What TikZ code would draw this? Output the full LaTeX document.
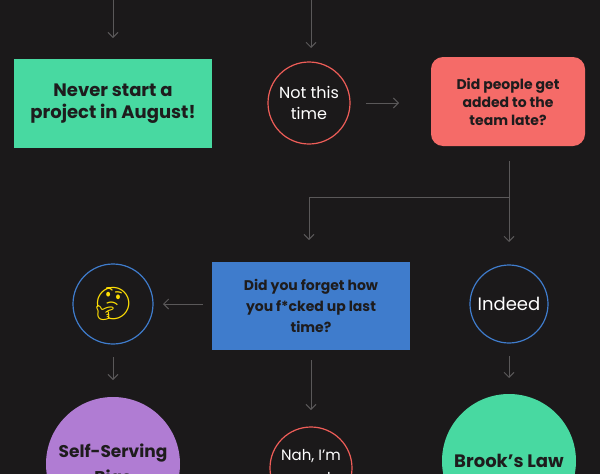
\documentclass[tikz,border=0pt]{standalone}
\usepackage{fontspec}
\setmainfont{Poppins}
\usetikzlibrary{arrows.meta}
\newfontfamily\emo{Noto Emoji}
\definecolor{bg}{HTML}{1B191A}
\definecolor{ln}{HTML}{5A5859}
\definecolor{grn}{HTML}{48D9A1}
\definecolor{rd}{HTML}{F56B68}
\definecolor{rdl}{HTML}{EE5D58}
\definecolor{bl}{HTML}{3F7CCC}
\definecolor{pur}{HTML}{B07CD3}
\definecolor{txt}{HTML}{1E1C1D}
\tikzset{
 conn/.style={draw=ln,line width=1pt,-{Straight Barb[length=5pt,width=10pt]}},
 dark/.style={text=txt,font=\bfseries,align=center},
 ring/.style={circle,line width=1.2pt,fill=bg,text=white,align=center,inner sep=0pt},
}
\begin{document}
\begin{tikzpicture}[x=1pt,y=-1pt]
\fill[bg] (0,0) rectangle (600,474);
\useasboundingbox (0,0) rectangle (600,474);
\begin{scope}
\clip (0,0) rectangle (600,474);
\coordinate (t1) at (113,0); \coordinate (t1e) at (113,38);
\coordinate (t2) at (311,0); \coordinate (t2e) at (311,48);
\draw[conn] (t1) -- (t1e);
\draw[conn] (t2) -- (t2e);
\node[fill=grn,minimum width=198pt,minimum height=89pt,dark,font=\bfseries\fontsize{18}{22}\selectfont] (never) at (113,103.5) {Never start a\\project in August!};
\node[ring,draw=rdl,minimum size=82pt,font=\fontsize{16}{21}\selectfont] (not) at (309,103) {Not this\\time};
\node[fill=rd,rounded corners=12pt,minimum width=154pt,minimum height=89pt,dark,font=\bfseries\fontsize{14}{18}\selectfont] (late) at (508,101.5) {Did people get\\added to the\\team late?};
\coordinate (a1) at (366,103); \coordinate (a1e) at (399,103);
\draw[conn] (a1) -- (a1e);
\coordinate (s) at (509,161); \coordinate (j) at (509,197); \coordinate (jl) at (309,197);
\coordinate (d1) at (309,240); \coordinate (d2) at (509,242);
\draw[draw=ln,line width=1pt] (s) -- (j) -- (jl);
\draw[conn] (jl) -- (d1);
\draw[conn] (j) -- (d2);
\node[fill=bl,minimum width=198pt,minimum height=88pt,dark,font=\bfseries\fontsize{14}{21}\selectfont] (forgot) at (311,306) {Did you forget how\\you f*cked up last\\time?};
\node[ring,draw=bl,minimum size=80pt,font=\emo\fontsize{32}{32}\selectfont,text=yellow!80!orange] (think) at (113,304) {🤔};
\node[ring,draw=bl,minimum size=78pt,font=\fontsize{18}{21}\selectfont] (indeed) at (509,304) {Indeed};
\coordinate (b1) at (203,304); \coordinate (b1e) at (163,304);
\draw[conn] (b1) -- (b1e);
\node[circle,fill=pur,minimum size=134pt,inner sep=0pt,dark,font=\bfseries\fontsize{17}{26}\selectfont] (ssb) at (113,464) {Self-Serving\\Bias};
\node[ring,draw=rdl,minimum size=82pt,font=\fontsize{15}{23}\selectfont] (nah) at (311,468) {Nah, I'm\\good};
\node[circle,fill=grn,minimum size=134pt,inner sep=0pt,dark,font=\bfseries\fontsize{18}{22}\selectfont] (brook) at (509,461) {Brook’s Law};
\coordinate (c1) at (113,357); \coordinate (c1e) at (113,380);
\coordinate (c2) at (311,360); \coordinate (c2e) at (311,410);
\coordinate (c3) at (509,356); \coordinate (c3e) at (509,378);
\draw[conn] (c1) -- (c1e);
\draw[conn] (c2) -- (c2e);
\draw[conn] (c3) -- (c3e);
\end{scope}
\end{tikzpicture}
\end{document}
